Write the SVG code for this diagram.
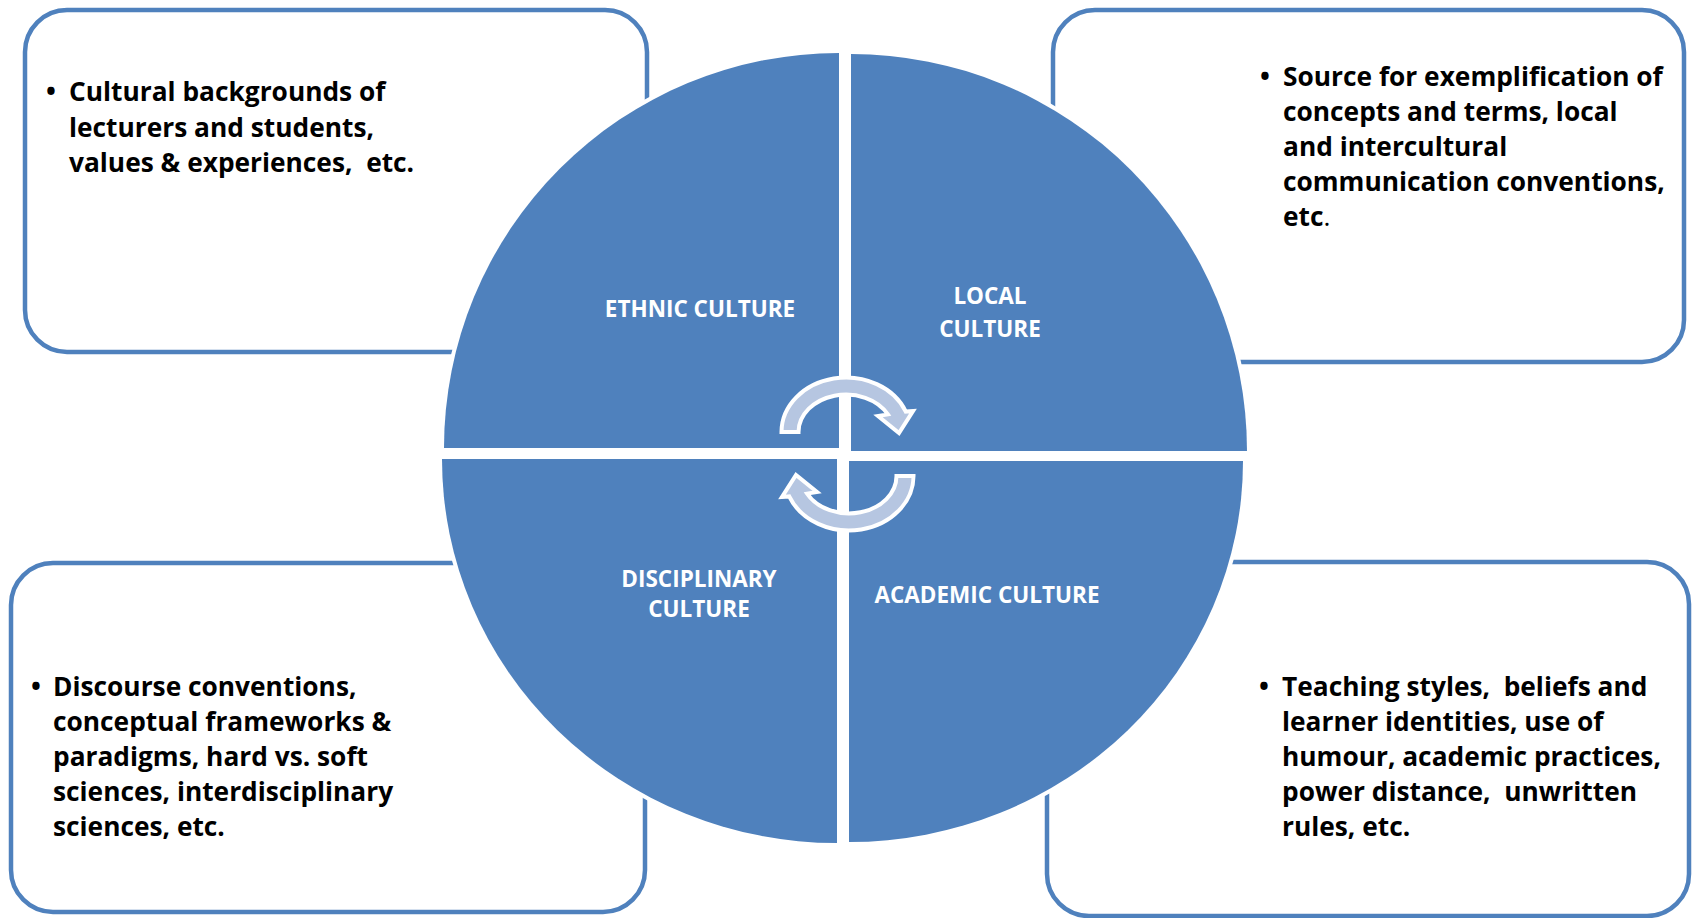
<svg xmlns="http://www.w3.org/2000/svg" xmlns:xlink="http://www.w3.org/1999/xlink" width="1694" height="918" viewBox="0 0 1694 918">
<style>
.box{fill:#ffffff;stroke:#4f81bd;stroke-width:4.5}
.quad{fill:#4f81bd;stroke:#ffffff;stroke-width:8;paint-order:stroke}
.lbl{font-family:"Open Sans",Lato,sans-serif;font-weight:bold;font-size:22.5px;fill:#ffffff;text-anchor:middle}
.txt{font-family:"Open Sans",Lato,sans-serif;font-weight:bold;font-size:26.3px;fill:#000000;white-space:pre}
.arr{fill:#b6c6e1;stroke:#ffffff;stroke-width:4;stroke-linejoin:miter}
</style>
<defs>
<path id="arcArrow" class="arr" d="M781.5,432 A64.5,54.5 0 0 1 905.8,411.6 L913,411 L899,433 L878,416 L887.9,414.4 A47.5,37.5 0 0 0 798.5,432 Z"/>
</defs>
<g id="box-ethnic">
<rect class="box" x="25" y="10" width="622" height="342" rx="42" ry="42"/>
<text class="txt" x="46" y="101">•</text>
<text class="txt"><tspan x="69" y="101">Cultural backgrounds of</tspan><tspan x="69" y="137">lecturers and students,</tspan><tspan x="69" y="172">values &amp; experiences,  etc.</tspan></text>
</g>
<g id="box-local">
<rect class="box" x="1053" y="10" width="631" height="352" rx="42" ry="42"/>
<text class="txt" x="1260" y="86">•</text>
<text class="txt"><tspan x="1283" y="86">Source for exemplification of</tspan><tspan x="1283" y="121">concepts and terms, local</tspan><tspan x="1283" y="156">and intercultural</tspan><tspan x="1283" y="191">communication conventions,</tspan><tspan x="1283" y="226">etc<tspan font-weight="normal">.</tspan></tspan></text>
</g>
<g id="box-disciplinary">
<rect class="box" x="11" y="563" width="634" height="349" rx="42" ry="42"/>
<text class="txt" x="31" y="696">•</text>
<text class="txt"><tspan x="53" y="696">Discourse conventions,</tspan><tspan x="53" y="731">conceptual frameworks &amp;</tspan><tspan x="53" y="766">paradigms, hard vs. soft</tspan><tspan x="53" y="801">sciences, interdisciplinary</tspan><tspan x="53" y="836">sciences, etc.</tspan></text>
</g>
<g id="box-academic">
<rect class="box" x="1047" y="562" width="642" height="354" rx="42" ry="42"/>
<text class="txt" x="1259" y="696">•</text>
<text class="txt"><tspan x="1282" y="696">Teaching styles,  beliefs and</tspan><tspan x="1282" y="731">learner identities, use of</tspan><tspan x="1282" y="766">humour, academic practices,</tspan><tspan x="1282" y="801">power distance,  unwritten</tspan><tspan x="1282" y="836">rules, etc.</tspan></text>
</g>
<g id="quad-ethnic">
<path class="quad" d="M839,448 H444 A395,395 0 0 1 839,53 Z"/>
<text class="lbl" x="700" y="317">ETHNIC CULTURE</text>
</g>
<g id="quad-local">
<path class="quad" d="M851,451 V54 A396,397 0 0 1 1247,451 Z"/>
<text class="lbl"><tspan x="990" y="304">LOCAL</tspan><tspan x="990" y="337">CULTURE</tspan></text>
</g>
<g id="quad-disciplinary">
<path class="quad" d="M837,459 V843 A395,384 0 0 1 442,459 Z"/>
<text class="lbl"><tspan x="699" y="587">DISCIPLINARY</tspan><tspan x="699" y="617">CULTURE</tspan></text>
</g>
<g id="quad-academic">
<path class="quad" d="M849,461 H1243 A394,381 0 0 1 849,842 Z"/>
<text class="lbl" x="987" y="603">ACADEMIC CULTURE</text>
</g>
<g id="connectors">
<use xlink:href="#arcArrow"/>
<use xlink:href="#arcArrow" transform="rotate(180 847.5 454)"/>
</g>
</svg>
